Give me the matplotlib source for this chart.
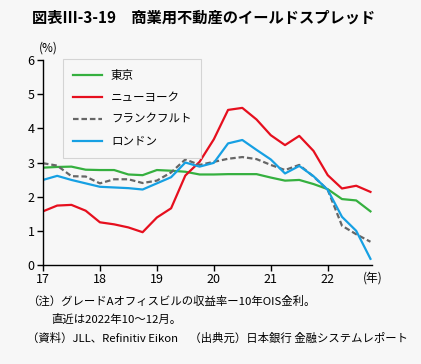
import numpy as np
import pandas as pd
import matplotlib.pyplot as plt

plt.rcParams['font.family'] = ['Noto Sans CJK JP', 'DejaVu Sans']

# 四半期 (2017Q1〜2022Q4)
quarters = pd.period_range('2017Q1', '2022Q4', freq='Q')

# イールドスプレッド (%)
tokyo = [2.85, 2.87, 2.88, 2.79, 2.78, 2.78, 2.65, 2.63, 2.78, 2.76, 2.73, 2.65,
         2.65, 2.66, 2.66, 2.66, 2.56, 2.47, 2.49, 2.37, 2.22, 1.93, 1.89, 1.57]
newyork = [1.57, 1.74, 1.76, 1.59, 1.25, 1.19, 1.10, 0.96, 1.39, 1.66, 2.62, 3.02,
           3.68, 4.54, 4.60, 4.26, 3.80, 3.51, 3.78, 3.34, 2.63, 2.24, 2.32, 2.14]
frankfurt = [2.98, 2.91, 2.60, 2.59, 2.39, 2.51, 2.51, 2.40, 2.47, 2.71, 3.09, 2.93,
             3.02, 3.11, 3.16, 3.10, 2.93, 2.78, 2.93, 2.59, 2.20, 1.15, 0.90, 0.68]
london = [2.49, 2.61, 2.49, 2.39, 2.29, 2.27, 2.25, 2.21, 2.39, 2.57, 3.00, 2.88,
          2.99, 3.56, 3.66, 3.37, 3.09, 2.68, 2.90, 2.60, 2.20, 1.41, 1.00, 0.18]

series_names = ['東京', 'ニューヨーク', 'フランクフルト', 'ロンドン']
year_ticks = [17, 18, 19, 20, 21, 22]

x = np.array([q.year % 100 + (q.quarter - 1) / 4 for q in quarters])

fig = plt.figure(figsize=(4.21, 3.64), dpi=100)
bg = '#f7f7f7'
fig.patch.set_facecolor(bg)
ax = fig.add_axes([0.102, 0.272, 0.782, 0.563])
ax.set_facecolor(bg)

ax.plot(x, tokyo, color='#35b03f', lw=1.6, label=series_names[0])
ax.plot(x, newyork, color='#e60f1e', lw=1.6, label=series_names[1])
ax.plot(x, frankfurt, color='#666666', lw=1.6, ls=(0, (2.5, 1.3)), label=series_names[2])
ax.plot(x, london, color='#16a0e3', lw=1.6, label=series_names[3])

ax.set_xlim(17, 22.78)
ax.set_ylim(0, 6)
ax.set_xticks(year_ticks)
ax.set_xticklabels([str(y) for y in year_ticks])
ax.set_yticks(range(0, 7))
ax.tick_params(labelsize=9, length=4, width=1, direction='out', pad=2)
for s in ['top', 'right']:
    ax.spines[s].set_visible(False)
for s in ['left', 'bottom']:
    ax.spines[s].set_linewidth(1)

leg = ax.legend(loc='upper left', bbox_to_anchor=(0.061, 1.005), borderaxespad=0,
                fontsize=8.3, frameon=True, fancybox=False, handlelength=2.5,
                labelspacing=0.78, borderpad=0.85, handletextpad=0.8)
leg.get_frame().set_edgecolor('#cccccc')
leg.get_frame().set_facecolor(bg)
leg.get_frame().set_linewidth(0.8)

fig.text(0.076, 0.952, '図表Ⅲ-3-19　商業用不動産のイールドスプレッド',
         fontsize=11, fontweight='bold', va='center', ha='left')
fig.text(0.093, 0.868, '(%)', fontsize=8.5, va='center', ha='left')
fig.text(0.885, 0.236, '(年)', fontsize=8.5, va='center', ha='center')

fig.text(0.064, 0.172, '（注）グレードAオフィスビルの収益率ー10年OIS金利。', fontsize=8.2, va='center')
fig.text(0.122, 0.123, '直近は2022年10〜12月。', fontsize=8.2, va='center')
fig.text(0.064, 0.072, '（資料）JLL、Refinitiv Eikon　（出典元）日本銀行 金融システムレポート',
         fontsize=8.2, va='center')

fig.savefig('out.png', dpi=100, facecolor=bg)
